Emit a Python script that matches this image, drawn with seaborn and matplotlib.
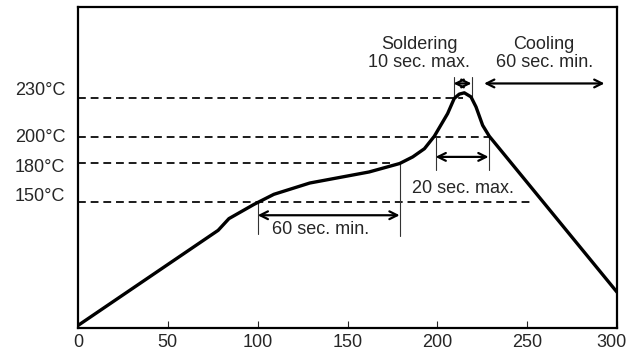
import matplotlib
matplotlib.use("Agg")
import matplotlib.pyplot as plt
import matplotlib.transforms as mtransforms
import seaborn as sns
import pandas as pd

# reflow profile (time in s, temperature in degC)
time_s = [0, 78, 84, 98, 109, 129, 162, 179, 186.3, 192.8, 198.3, 205.7, 209.4,
          212.2, 215, 218.7, 221.5, 225.2, 228.9, 300]
temp_c = [55, 128.2, 137.2, 148.2, 155.9, 164.6, 173.1, 179.6, 184.7, 191, 200.6,
          218, 229.7, 233, 234, 230.9, 223.2, 209, 200.6, 80.6]

# reference levels and where each dashed line stops
levels = [230, 200, 180, 150]
level_end = [214, 229, 176, 253]
level_labels = ["230°C", "200°C", "180°C", "150°C"]
label_pos = [237, 201.4, 177.7, 155.9]

x_ticks = [0, 50, 100, 150, 200, 250, 300]

# interval markers: (x0, x1, arrow y) and vertical guides (x, y0, y1)
preheat = (100, 179, 139.8)
preheat_vl = [(100, 125.7, 150), (179, 124, 180)]
above200 = (199, 228.5, 184.7)
above200_vl = [(199, 174.4, 200), (228.5, 174.4, 200)]
solder = (209, 219, 241.2)
solder_vl = [(209, 230.9, 246.3), (219, 230.9, 246.3)]
cooling = (226, 293, 241.2)

sns.set_style("white")
plt.rcParams["font.family"] = ["Liberation Sans", "DejaVu Sans"]

fig = plt.figure(figsize=(6.29, 3.52), dpi=100)
ax = fig.add_axes([0.124, 0.068, 0.857, 0.912])

df = pd.DataFrame({"time": time_s, "temp": temp_c})
sns.lineplot(data=df, x="time", y="temp", color="black", lw=2.4,
             estimator=None, sort=False, ax=ax, zorder=5)

for lv, xe in zip(levels, level_end):
    ax.plot([0, xe], [lv, lv], color="black", lw=1.25, linestyle=(0, (4.5, 2.8)))

for x, y0, y1 in preheat_vl + above200_vl + solder_vl:
    ax.plot([x, x], [y0, y1], color="#333333", lw=0.8)

for x0, x1, y in [preheat, above200, solder, cooling]:
    ax.annotate("", xy=(x0, y), xytext=(x1, y),
                arrowprops=dict(arrowstyle="<->", lw=1.6, color="black",
                                shrinkA=0, shrinkB=0, mutation_scale=14))

fs = 13
ax.text(108, 129, "60 sec. min.", fontsize=fs, ha="left", va="center")
ax.text(214.5, 160.3, "20 sec. max.", fontsize=fs, ha="center", va="center")
ax.text(190, 264.3, "Soldering\n10 sec. max.", fontsize=fs, ha="center",
        va="center", linespacing=1.05)
ax.text(259.4, 264.3, "Cooling\n60 sec. min.", fontsize=fs, ha="center",
        va="center", linespacing=1.05)

ax.set_xlim(0, 300)
ax.set_ylim(53, 300)
ax.set_xticks(x_ticks)
ax.set_xticklabels([str(t) for t in x_ticks], fontsize=fs)
ax.set_yticks(label_pos)
ax.set_yticklabels(level_labels, fontsize=fs)
ax.tick_params(axis="x", direction="in", length=5, width=0.8, pad=4, bottom=True)
ax.tick_params(axis="y", length=0, pad=9)
ax.set_xlabel("")
ax.set_ylabel("")
for s in ax.spines.values():
    s.set_color("black")
    s.set_linewidth(1.6)

# keep the last tick label inside the canvas
last = ax.get_xticklabels()[-1]
last.set_transform(last.get_transform() +
                   mtransforms.ScaledTranslation(-4 / 72, 0, fig.dpi_scale_trans))

fig.savefig("out.png", dpi=100)
